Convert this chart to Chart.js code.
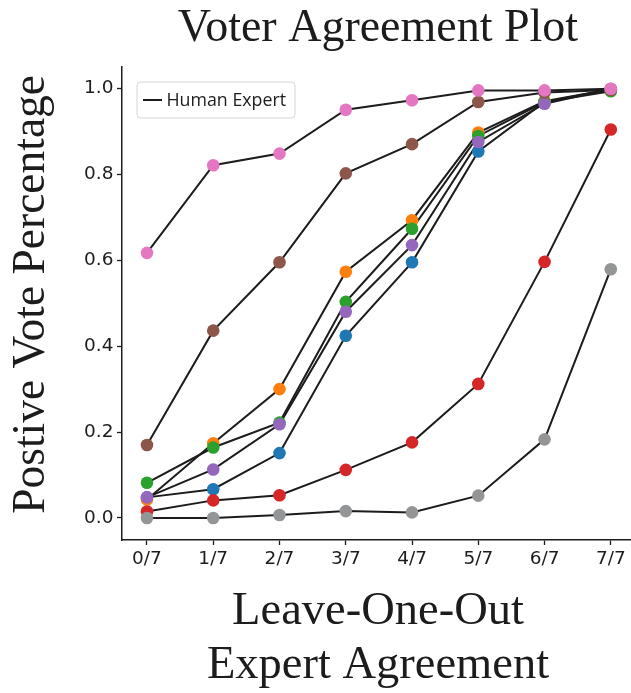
<!DOCTYPE html>
<html>
<head>
<meta charset="utf-8">
<script src="https://cdn.jsdelivr.net/npm/chart.js@4"></script>
<style>
  html, body { margin: 0; padding: 0; background: #fff; overflow: hidden; }
  #wrap { width: 645px; height: 693px; }
</style>
</head>
<body>
<div id="wrap"><canvas id="chart"></canvas></div>
<script>
// tick labels
const xLabels = ['0/7', '1/7', '2/7', '3/7', '4/7', '5/7', '6/7', '7/7']
const yTicks = [0, 0.2, 0.4, 0.6, 0.8, 1.0]

// one array per expert (positive vote share at each leave-one-out agreement level)
const expert1 = [0.048, 0.067, 0.151, 0.424, 0.595, 0.853, 0.968, 0.998]
const expert2 = [0.043, 0.174, 0.300, 0.573, 0.693, 0.897, 0.970, 0.998]
const expert3 = [0.082, 0.164, 0.222, 0.503, 0.673, 0.889, 0.968, 0.993]
const expert4 = [0.015, 0.041, 0.053, 0.112, 0.176, 0.312, 0.596, 0.904]
const expert5 = [0.048, 0.113, 0.218, 0.480, 0.635, 0.875, 0.964, 0.998]
const expert6 = [0.170, 0.436, 0.595, 0.802, 0.870, 0.968, 0.990, 0.996]
const expert7 = [0.617, 0.821, 0.848, 0.950, 0.972, 0.995, 0.995, 0.999]
const expert8 = [0.000, 0.000, 0.007, 0.016, 0.013, 0.052, 0.183, 0.579]

const experts = [expert1, expert2, expert3, expert4, expert5, expert6, expert7, expert8]
const dotColors = ['#1f77b4', '#ff7f0e', '#2ca02c', '#d62728', '#9467bd', '#8c564b', '#e377c2', '#949597']

const serif = 'Liberation Serif'
const sans = 'DejaVu Sans'
const ink = '#1c1c1c'

const toPoints = arr => arr.map((y, i) => ({ x: i, y }))

// black connecting lines (drawn under every dot)
const lineSets = experts.map(d => ({
  label: 'Human Expert',
  data: toPoints(d),
  borderColor: ink,
  borderWidth: 2,
  pointRadius: 0,
  tension: 0,
  fill: false,
  order: 20
}))

// coloured markers, later experts on top
const dotSets = experts.map((d, k) => ({
  label: 'dots' + k,
  data: toPoints(d),
  showLine: false,
  pointRadius: 6.3,
  pointBorderWidth: 0,
  pointBackgroundColor: dotColors[k],
  order: experts.length - k
}))

const legendBox = {
  id: 'legendBox',
  afterDraw(chart) {
    const { ctx, chartArea } = chart
    const x = chartArea.left + 15
    const y = chartArea.top + 15
    const w = 158, h = 36
    ctx.save()
    ctx.beginPath()
    ctx.roundRect(x, y, w, h, 4)
    ctx.fillStyle = 'rgba(255,255,255,0.8)'
    ctx.fill()
    ctx.strokeStyle = '#d4d4d4'
    ctx.lineWidth = 1
    ctx.stroke()
    ctx.beginPath()
    ctx.moveTo(x + 6, y + h / 2)
    ctx.lineTo(x + 25, y + h / 2)
    ctx.strokeStyle = ink
    ctx.lineWidth = 2
    ctx.stroke()
    ctx.fillStyle = ink
    ctx.font = '17.8px "Open Sans"'
    ctx.textBaseline = 'middle'
    ctx.fillText('Human Expert', x + 29.5, y + h / 2 + 1)
    ctx.restore()
  }
}

new Chart(document.getElementById('chart'), {
  type: 'line',
  data: { datasets: [...lineSets, ...dotSets] },
  plugins: [legendBox],
  options: {
    responsive: true,
    maintainAspectRatio: false,
    animation: false,
    events: [],
    layout: { padding: { right: 11 } },
    plugins: {
      legend: { display: false },
      tooltip: { enabled: false },
      title: {
        display: true,
        fullSize: false,
        text: 'Voter Agreement Plot',
        color: ink,
        font: { family: serif, size: 46, weight: 'normal', lineHeight: 1.0 },
        padding: { top: 6, bottom: 15 }
      }
    },
    scales: {
      x: {
        type: 'linear',
        min: -0.377,
        max: 7.35,
        afterBuildTicks: s => { s.ticks = xLabels.map((_, i) => ({ value: i })) },
        afterFit: s => { s.height = 153 },
        ticks: {
          callback: v => xLabels[v],
          color: ink,
          font: { family: sans, size: 18.5 },
          padding: 3,
          maxRotation: 0,
          autoSkip: false
        },
        grid: { drawOnChartArea: false, tickLength: 5, color: ink, tickWidth: 1.3 },
        border: { color: ink, width: 1.5 },
        title: {
          display: true,
          text: ['Leave-One-Out', 'Expert Agreement'],
          color: ink,
          font: { family: serif, size: 46.5, lineHeight: 1.17 },
          padding: { top: 0, bottom: 0 }
        }
      },
      y: {
        type: 'linear',
        min: -0.0512,
        max: 1.0495,
        afterBuildTicks: s => { s.ticks = yTicks.map(v => ({ value: v })) },
        afterFit: s => { s.width = 122 },
        ticks: {
          callback: v => v.toFixed(1),
          color: ink,
          font: { family: sans, size: 18.5 },
          padding: 3.5
        },
        grid: { drawOnChartArea: false, tickLength: 5, color: ink, tickWidth: 1.3 },
        border: { color: ink, width: 1.5 },
        title: {
          display: true,
          text: '\u2009\u2009Postive Vote Percentage',
          color: ink,
          font: { family: serif, size: 45.5, lineHeight: 1.0 },
          padding: { top: 9, bottom: 0 }
        }
      }
    }
  }
})
</script>
</body>
</html>
